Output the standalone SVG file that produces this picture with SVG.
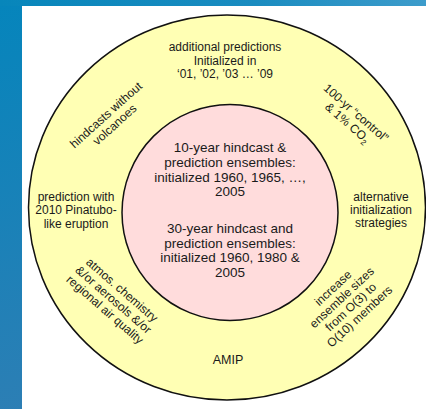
<svg xmlns="http://www.w3.org/2000/svg" width="426" height="409" viewBox="0 0 426 409">
<defs>
<linearGradient id="bg" x1="0" y1="0" x2="0.3" y2="1">
<stop offset="0" stop-color="#0585bc"/>
<stop offset="1" stop-color="#2f7eb4"/>
</linearGradient>
<linearGradient id="topband" x1="0" y1="0" x2="1" y2="0">
<stop offset="0" stop-color="#0786bb"/>
<stop offset="0.6" stop-color="#1a8cc0"/>
<stop offset="1" stop-color="#3d9ccb"/>
</linearGradient>
<style>
text{font-family:"Liberation Sans",Arial,sans-serif;fill:#1a1a1a;text-anchor:middle}
.o{font-size:12px}
.i{font-size:13.5px}
.ring{stroke:#111;stroke-width:1.5}
</style>
</defs>
<rect x="0" y="0" width="426" height="409" fill="url(#bg)"/>
<rect x="0" y="0" width="426" height="6" fill="url(#topband)"/>
<rect x="22" y="6" width="404" height="403" fill="#ffffff"/>
<g id="outer-ring">
<ellipse class="ring" cx="227" cy="207.5" rx="198.5" ry="192.5" fill="#ffffb4"/>
</g>
<g id="inner-circle">
<circle class="ring" cx="230" cy="212.5" r="108" fill="#ffdcdc"/>
<text class="i" x="230" y="152">10-year hindcast &amp;</text>
<text class="i" x="230" y="167">prediction ensembles:</text>
<text class="i" x="230" y="182">initialized 1960, 1965, …,</text>
<text class="i" x="230" y="196">2005</text>
<text class="i" x="230" y="233">30-year hindcast and</text>
<text class="i" x="230" y="248">prediction ensembles:</text>
<text class="i" x="230" y="262">initialized 1960, 1980 &amp;</text>
<text class="i" x="230" y="277">2005</text>
</g>
<g id="additional-predictions">
<text class="o" x="225" y="51">additional predictions</text>
<text class="o" x="225" y="65">Initialized in</text>
<text class="o" x="225" y="78">‘01, ’02, ’03  … ’09</text>
</g>
<g id="hindcasts-without-volcanoes">
<text class="o" transform="translate(106,115) rotate(-42)"><tspan x="0" y="4">hindcasts without</tspan><tspan x="0" y="17">volcanoes</tspan></text>
</g>
<g id="control">
<text class="o" transform="translate(356,113) rotate(41)"><tspan x="0" y="4">100-yr “control”</tspan><tspan x="0" y="17">&amp; 1% CO<tspan font-size="8" dy="3">2</tspan></tspan></text>
</g>
<g id="pinatubo">
<text class="o" x="76" y="201">prediction with</text>
<text class="o" x="76" y="214">2010 Pinatubo-</text>
<text class="o" x="76" y="228">like eruption</text>
</g>
<g id="alternative-initialization">
<text class="o" x="381" y="201">alternative</text>
<text class="o" x="381" y="214">initialization</text>
<text class="o" x="381" y="227">strategies</text>
</g>
<g id="atmos-chemistry">
<text class="o" transform="translate(122,290) rotate(41)"><tspan x="0" y="4">atmos. chemistry</tspan><tspan x="0" y="17">&amp;/or aerosols &amp;/or</tspan><tspan x="0" y="30">regional air quality</tspan></text>
</g>
<g id="ensemble-sizes">
<text class="o" transform="translate(333,288) rotate(-43)"><tspan x="0" y="4">increase</tspan><tspan x="0" y="17">ensemble sizes</tspan><tspan x="0" y="30">from O(3) to</tspan><tspan x="0" y="43">O(10) members</tspan></text>
</g>
<g id="amip">
<text x="228" y="364" style="font-size:12.5px">AMIP</text>
</g>
<g id="connectors"/>
</svg>
